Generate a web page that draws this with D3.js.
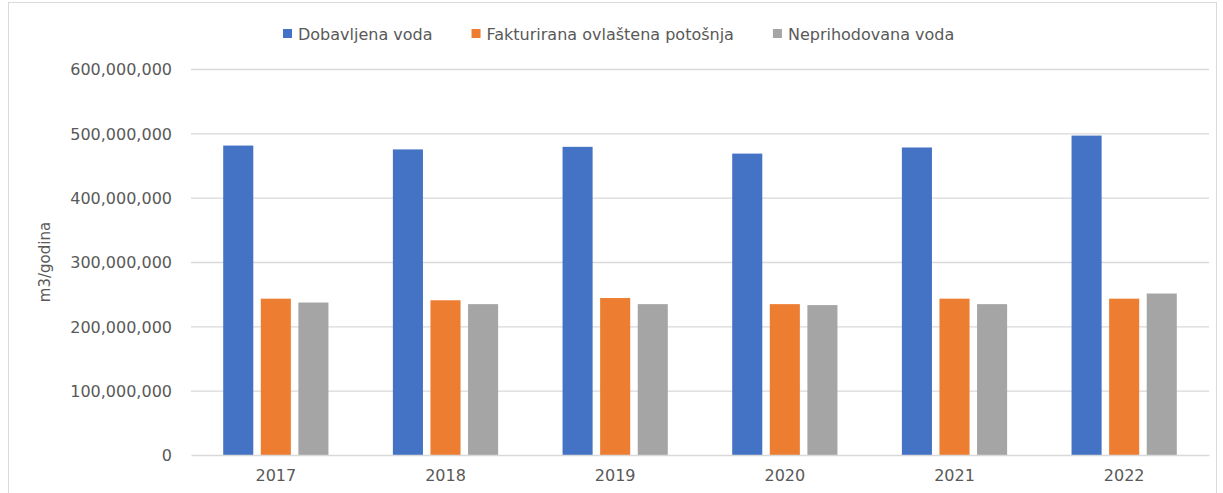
<!DOCTYPE html>
<html>
<head>
<meta charset="utf-8">
<script src="https://cdn.jsdelivr.net/npm/d3@7"></script>
<style>
  body { margin: 0; background: #fff; }
  text { font-family: "DejaVu Sans", sans-serif; fill: #595959; }
</style>
</head>
<body>
<div id="chart"></div>
<script>
// Data
const years = ["2017", "2018", "2019", "2020", "2021", "2022"];
const seriesNames = ["Dobavljena voda", "Fakturirana ovlaštena potošnja", "Neprihodovana voda"];
const dobavljena = [481000000, 475000000, 479000000, 468500000, 478000000, 496500000];
const fakturirana = [243000000, 240500000, 244000000, 234500000, 243000000, 243000000];
const neprihodovana = [237000000, 234500000, 234500000, 233000000, 234500000, 251000000];
const yTicks = [0, 100000000, 200000000, 300000000, 400000000, 500000000, 600000000];
const colors = ["#4472C4", "#ED7D31", "#A5A5A5"];

const totalWidth = 1223, totalHeight = 493;
const margin = { top: 69, right: 14, bottom: 38, left: 191 },
    width = totalWidth - margin.left - margin.right,
    height = totalHeight - margin.top - margin.bottom;

const svg = d3.select("#chart").append("svg")
    .attr("width", totalWidth)
    .attr("height", totalHeight);

// outer chart border
svg.append("rect")
    .attr("x", 8.5).attr("y", 2.5)
    .attr("width", 1208).attr("height", 500)
    .attr("fill", "none")
    .attr("stroke", "#d9d9d9");

const g = svg.append("g")
    .attr("transform", `translate(${margin.left},${margin.top})`);

const table = years.map((yr, i) => ({
    year: yr,
    values: [dobavljena[i], fakturirana[i], neprihodovana[i]]
}));

const x0 = d3.scaleBand().domain(years).range([0, width]);
const x1 = d3.scaleBand().domain(d3.range(3))
    .range([0, x0.bandwidth()])
    .paddingInner(0.2)
    .paddingOuter(0.857);
const y = d3.scaleLinear().domain([0, 600000000]).range([height, 0]);

// gridlines
g.append("g")
    .selectAll("line")
    .data(yTicks.slice(1))
    .join("line")
    .attr("x1", 0).attr("x2", width)
    .attr("y1", d => y(d) + 0.5).attr("y2", d => y(d) + 0.5)
    .attr("stroke", "#d9d9d9")
    .attr("stroke-width", 1.3);

// y axis labels
const yAxis = g.append("g")
    .attr("transform", "translate(-16,0)")
    .call(d3.axisLeft(y).tickValues(yTicks).tickSize(0).tickFormat(d3.format(",")));
yAxis.select(".domain").remove();
yAxis.selectAll("text")
    .style("font-size", "16px")
    .attr("dy", "0.36em");

// bars
const groups = g.selectAll(".year")
    .data(table)
    .join("g")
    .attr("class", "year")
    .attr("transform", d => `translate(${x0(d.year)},0)`);

groups.selectAll("rect")
    .data(d => d.values.map((v, k) => ({ k, v })))
    .join("rect")
    .attr("x", d => x1(d.k))
    .attr("width", x1.bandwidth())
    .attr("y", d => y(d.v))
    .attr("height", d => height - y(d.v))
    .attr("fill", d => colors[d.k]);

// x axis
const xAxis = g.append("g")
    .attr("transform", `translate(0,${height})`)
    .call(d3.axisBottom(x0).tickSize(0).tickPadding(15));
xAxis.select(".domain")
    .attr("stroke", "#d9d9d9")
    .attr("stroke-width", 1.3);
xAxis.selectAll("text").style("font-size", "16px");

// y axis title
svg.append("text")
    .attr("transform", `translate(50,${margin.top + height / 2}) rotate(-90)`)
    .attr("text-anchor", "middle")
    .style("font-size", "15px")
    .text("m3/godina");

// legend
const legend = svg.append("g").attr("transform", "translate(283,34)");
let lx = 0;
seriesNames.forEach((name, i) => {
    const item = legend.append("g").attr("transform", `translate(${lx},0)`);
    item.append("rect")
        .attr("x", 0).attr("y", -5)
        .attr("width", 9).attr("height", 9)
        .attr("fill", colors[i]);
    const t = item.append("text")
        .attr("x", 15).attr("dy", "0.35em")
        .style("font-size", "16px")
        .text(name);
    lx += 15 + t.node().getComputedTextLength() + 39;
});
</script>
</body>
</html>
